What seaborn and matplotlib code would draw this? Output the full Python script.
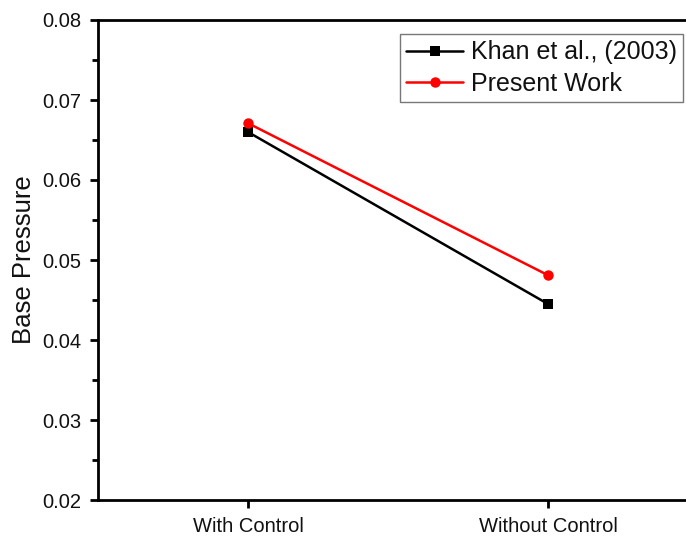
import matplotlib
matplotlib.use("Agg")
import matplotlib.pyplot as plt
import seaborn as sns
import pandas as pd
from matplotlib.ticker import MultipleLocator

categories = ["With Control", "Without Control"]
khan = [0.0660, 0.0445]
present = [0.0671, 0.0481]
series_names = ["Khan et al., (2003)", "Present Work"]

df = pd.DataFrame({
    "x": list(range(len(categories))) * 2,
    "y": khan + present,
    "series": [series_names[0]] * len(categories) + [series_names[1]] * len(categories),
})

sns.set_style("ticks")
plt.rcParams['font.family'] = ['Liberation Sans', 'DejaVu Sans']

fig = plt.figure(figsize=(6.86, 5.36), dpi=100)
W, H = 686, 536
ax = fig.add_axes([98 / W, (H - 500) / H, (686 - 98) / W, (500 - 20) / H])

sns.lineplot(data=df, x="x", y="y", hue="series", style="series",
             palette={series_names[0]: "black", series_names[1]: "red"},
             markers={series_names[0]: "s", series_names[1]: "o"},
             dashes=False, markersize=7.5, linewidth=1.8, markeredgewidth=0,
             ax=ax, legend=True)

ax.set_xlim(-0.5, 1.46)
ax.set_ylim(0.02, 0.08)
ax.set_xticks(range(len(categories)))
ax.set_xticklabels(categories)
ax.yaxis.set_major_locator(MultipleLocator(0.01))
ax.yaxis.set_minor_locator(MultipleLocator(0.005))
ax.yaxis.set_major_formatter(matplotlib.ticker.FormatStrFormatter('%.2f'))
ax.tick_params(axis='both', which='major', direction='out', length=6, width=2,
               labelsize=14.5, color='black', labelcolor='#111111')
ax.tick_params(axis='y', which='major', pad=6)
ax.tick_params(axis='x', which='major', pad=6)
ax.tick_params(axis='y', which='minor', direction='out', length=4, width=2, color='black')
ax.set_xlabel("")
ax.set_ylabel("Base Pressure", fontsize=18.5, color='#111111')
ax.yaxis.set_label_coords(36 / W, (H - 260) / H, transform=fig.transFigure)
for s in ["left", "bottom", "top"]:
    ax.spines[s].set_linewidth(2)
    ax.spines[s].set_color('black')
ax.spines["right"].set_visible(False)

leg = ax.legend(loc='upper right', bbox_to_anchor=(683 / W, (H - 34) / H),
                bbox_transform=fig.transFigure, fontsize=18, frameon=True,
                fancybox=False, borderpad=0.25, handlelength=2.3, handletextpad=0.3,
                labelspacing=0.3, borderaxespad=0)
leg.get_frame().set_edgecolor('#555555')
leg.get_frame().set_linewidth(1)
for t in leg.get_texts():
    t.set_color('#111111')

fig.savefig("out.png", dpi=100)
